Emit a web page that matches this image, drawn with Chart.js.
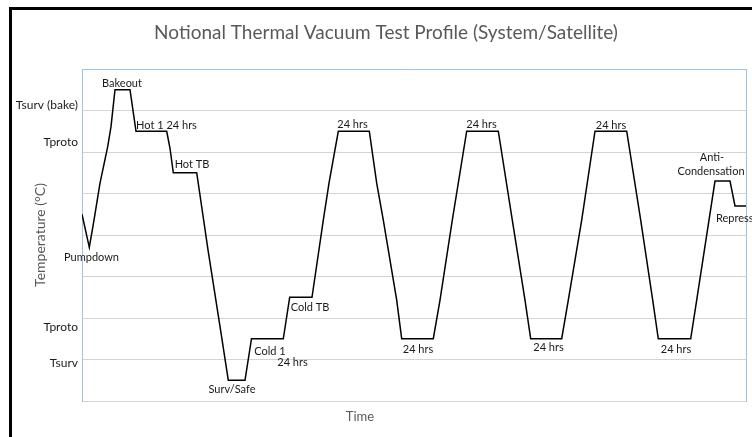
<!DOCTYPE html>
<html>
<head>
<meta charset="utf-8">
<script src="https://cdn.jsdelivr.net/npm/chart.js@4"></script>
<style>
  html, body { margin: 0; padding: 0; background: #fff; }
  #wrap { position: relative; width: 752px; height: 437px; overflow: hidden; }
  #frame { position: absolute; left: 9px; top: 7px; right: -20px; bottom: -20px;
           border-top: 3px solid #000; border-left: 3px solid #000; pointer-events: none; }
  canvas { position: absolute; left: 0; top: 0; }
</style>
</head>
<body>
<div id="wrap">
  <canvas id="c" width="752" height="437"></canvas>
  <div id="frame"></div>
</div>
<script>
// Test timeline (arbitrary time units) and chamber temperature level (notional units)
const timeSteps = [0, 3.65, 6, 9, 12.85, 14.5, 16.5, 24, 27, 42.35, 44, 45.65, 57.35, 63, 69.5,
  73.15, 81.5, 84.75, 100.65, 103.85, 115, 120.65, 123.5, 128.15, 143.65, 147.35, 150.65,
  157.35, 159.85, 175.65, 179, 185.15, 192.35, 208.15, 215.15, 221.5, 224.35, 239.85, 243.15,
  249.85, 256.5, 272.35, 279.35, 285.35, 288.15, 304.35, 307.35, 316.5, 324, 326.5, 332];
const temperature = [4.5, 3.7, 4.36, 5.25, 6.13, 6.61, 7.5, 7.5, 6.5, 6.5, 6.09, 5.5, 5.5, 3.64, 1.64,
  0.5, 0.5, 1.5, 1.5, 2.5, 2.5, 4.36, 5.25, 6.5, 6.5, 5.25, 4.36,
  2.43, 1.5, 1.5, 2.43, 4.36, 6.5, 6.5, 4.36, 2.43, 1.5, 1.5, 2.43,
  4.36, 6.5, 6.5, 4.36, 2.43, 1.5, 1.5, 2.43, 5.3, 5.3, 4.7, 4.7];

// Named temperature levels on the vertical axis
const levelNames = ['Tsurv', 'Tproto', 'Tproto', 'Tsurv (bake)'];
const levelValues = [0.92, 1.77, 6.25, 7.13];

// Phase annotations
const noteTexts = ['Bakeout', 'Hot 1 24 hrs', 'Hot TB', 'Pumpdown', 'Surv/Safe', 'Cold 1', '24 hrs',
  'Cold TB', '24 hrs', '24 hrs', '24 hrs', '24 hrs', '24 hrs', '24 hrs', 'Anti-', 'Condensation', 'Repress'];

// Where each annotation sits (time, level) and how it is aligned
const notePlacement = [
  [20, 7.64, 'center'], [42.25, 6.65, 'center'], [55, 5.69, 'center'], [4.75, 3.47, 'center'],
  [75, 0.29, 'center'], [94, 1.20, 'center'], [105.25, 0.92, 'center'], [114, 2.25, 'center'],
  [135.25, 6.67, 'center'], [199.75, 6.67, 'center'], [264.5, 6.65, 'center'],
  [168, 1.25, 'center'], [233.25, 1.30, 'center'], [297, 1.25, 'center'],
  [315, 5.88, 'center'], [314.5, 5.52, 'center'], [317, 4.41, 'left']
];

const chartTitle = 'Notional Thermal Vacuum Test Profile (System/Satellite)';
const FONT = 'Lato, "Open Sans", sans-serif';
const plotBlue = '#9dc3e6';

const profile = timeSteps.map((t, i) => ({ x: t, y: temperature[i] }));

const notesPlugin = {
  id: 'phaseNotes',
  afterDatasetsDraw(chart) {
    const { ctx, scales } = chart;
    ctx.save();
    ctx.textBaseline = 'middle';
    // chart heading
    ctx.fillStyle = '#595959';
    ctx.font = '19px ' + FONT;
    ctx.textAlign = 'center';
    ctx.fillText(chartTitle, 386, 33);
    // phase labels
    ctx.fillStyle = '#1a1a1a';
    ctx.font = '11px ' + FONT;
    noteTexts.forEach((txt, i) => {
      const [t, v, align] = notePlacement[i];
      ctx.textAlign = align;
      ctx.fillText(txt, scales.x.getPixelForValue(t), scales.y.getPixelForValue(v));
    });
    // horizontal axis caption
    ctx.fillStyle = '#595959';
    ctx.font = '13px ' + FONT;
    ctx.textAlign = 'center';
    ctx.fillText('Time', 360, 417);
    ctx.restore();
  }
};

new Chart(document.getElementById('c'), {
  type: 'line',
  data: {
    datasets: [{
      data: profile,
      borderColor: '#000',
      borderWidth: 1.5,
      pointRadius: 0,
      tension: 0,
      fill: false
    }]
  },
  options: {
    responsive: false,
    animation: false,
    layout: { padding: { left: 0, right: 6, top: 69, bottom: 0 } },
    plugins: {
      legend: { display: false },
      tooltip: { enabled: false },
      title: { display: false }
    },
    scales: {
      x: {
        type: 'linear',
        min: 0, max: 332,
        grid: { display: false },
        border: { display: false },
        ticks: { display: false },
        afterFit(s) { s.height = 36; }
      },
      y: {
        position: 'left',
        weight: 0,
        min: 0, max: 8,
        ticks: { display: false, stepSize: 1 },
        grid: {
          drawTicks: false,
          color: c => (c.tick && c.tick.value === 8 ? plotBlue : '#d4d4d4'),
          lineWidth: 1
        },
        border: { display: true, color: plotBlue, width: 1 },
        afterFit(s) { s.width = 0; }
      },
      yl: {
        position: 'left',
        weight: 1,
        min: 0, max: 8,
        grid: { display: false, drawTicks: false },
        border: { display: false },
        afterBuildTicks(s) { s.ticks = levelValues.map(v => ({ value: v })); },
        ticks: {
          padding: 4,
          color: '#1a1a1a',
          font: { family: FONT, size: 12 },
          callback: (v, i) => levelNames[i]
        },
        title: {
          display: true,
          text: 'Temperature (°C)',
          color: '#595959',
          font: { family: FONT, size: 14, lineHeight: 1.2 },
          padding: { top: 32, bottom: 0 }
        },
        afterFit(s) { s.width = 82; }
      },
      yr: {
        position: 'right',
        min: 0, max: 8,
        grid: { display: false, drawTicks: false },
        ticks: { display: false },
        border: { display: true, color: plotBlue, width: 1 },
        afterFit(s) { s.width = 0; }
      }
    }
  },
  plugins: [notesPlugin]
});
</script>
</body>
</html>
